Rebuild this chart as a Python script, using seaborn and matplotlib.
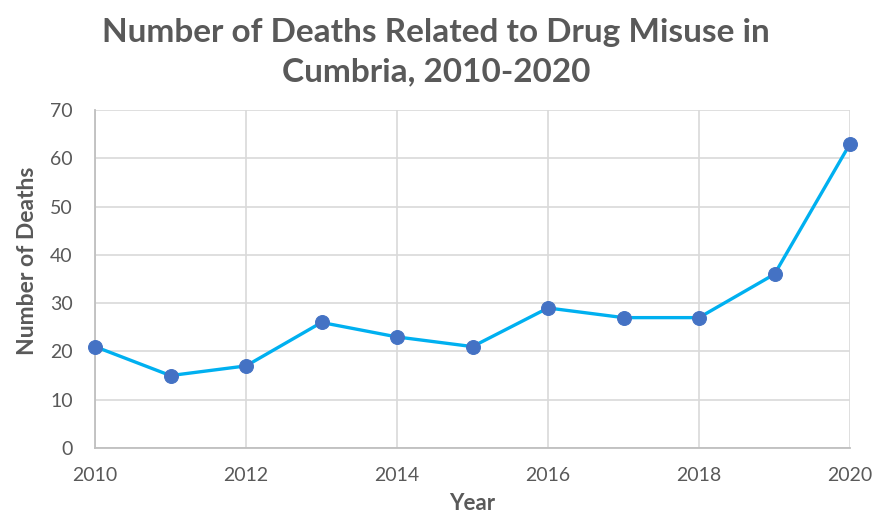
import matplotlib
matplotlib.use("Agg")
import matplotlib.pyplot as plt
import seaborn as sns
import pandas as pd

years = [2010, 2011, 2012, 2013, 2014, 2015, 2016, 2017, 2018, 2019, 2020]
deaths = [21, 15, 17, 26, 23, 21, 29, 27, 27, 36, 63]
x_ticks = [2010, 2012, 2014, 2016, 2018, 2020]
y_ticks = [0, 10, 20, 30, 40, 50, 60, 70]

df = pd.DataFrame({"Year": years, "Deaths": deaths})

sns.set_theme(style="white")
plt.rcParams["font.family"] = ["Lato", "DejaVu Sans"]

text_grey = "#595959"
grid_grey = "#D9D9D9"
axis_grey = "#BFBFBF"

fig = plt.figure(figsize=(8.72, 5.14), dpi=100)
ax = fig.add_axes([95 / 872, 1 - 448 / 514, 755 / 872, 338 / 514])

sns.lineplot(data=df, x="Year", y="Deaths", ax=ax, color="#00B0F0", linewidth=2.4,
             marker="o", markersize=10, markerfacecolor="#4472C4",
             markeredgecolor="#4472C4", clip_on=False, zorder=3)

ax.set_xlim(2010, 2020)
ax.set_ylim(0, 70)
ax.set_xticks(x_ticks)
ax.set_yticks(y_ticks)
ax.grid(True, color=grid_grey, linewidth=1.2)
ax.set_axisbelow(True)

for side in ("top", "right"):
    ax.spines[side].set_visible(False)
for side in ("left", "bottom"):
    ax.spines[side].set_color(axis_grey)
    ax.spines[side].set_linewidth(1.3)

ax.tick_params(axis="both", length=0, labelsize=14, labelcolor=text_grey)
ax.tick_params(axis="x", pad=14)
ax.tick_params(axis="y", pad=16)

ax.set_xlabel("Year", fontsize=16, fontweight="bold", color=text_grey)
ax.set_ylabel("Number of Deaths", fontsize=16.5, fontweight="bold", color=text_grey)
ax.xaxis.set_label_coords(0.5, -(503 - 448) / 338)
ax.yaxis.set_label_coords(-(95 - 28) / 755, (448 - 261) / 338)
ax.yaxis.label.set_va("center")
ax.xaxis.label.set_va("center")

fig.text(0.5, 1 - 52 / 514, "Number of Deaths Related to Drug Misuse in\nCumbria, 2010-2020",
         ha="center", va="center", fontsize=24, fontweight="bold", color=text_grey,
         linespacing=1.42)

fig.savefig("out.png", dpi=100, facecolor="white")
